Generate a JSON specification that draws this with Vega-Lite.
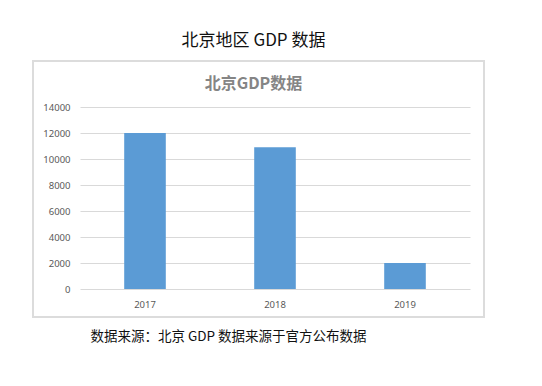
{
  "$schema": "https://vega.github.io/schema/vega-lite/v6.json",
  "autosize": "none",
  "width": 451,
  "height": 256,
  "padding": {"left": 33, "top": 61, "right": 58, "bottom": 69},
  "background": "#ffffff",
  "title": {
    "text": "北京地区 GDP 数据",
    "subtitle": "北京GDP数据",
    "anchor": "middle",
    "dx": -5,
    "offset": -32,
    "font": "Noto Sans CJK SC",
    "fontSize": 17,
    "fontWeight": "normal",
    "color": "#111111",
    "subtitleFont": "Noto Sans CJK SC",
    "subtitleFontSize": 16,
    "subtitleFontWeight": "bold",
    "subtitleColor": "#858585",
    "subtitlePadding": 26
  },
  "data": {
    "values": [
      {"year": "2017", "gdp": 12000},
      {"year": "2018", "gdp": 10900},
      {"year": "2019", "gdp": 2000}
    ]
  },
  "mark": {"type": "bar", "color": "#5b9bd5"},
  "encoding": {
    "x": {
      "field": "year",
      "type": "nominal",
      "sort": null,
      "scale": {"range": [47, 437], "paddingInner": 0.68, "paddingOuter": 0.34},
      "axis": {
        "title": "数据来源：北京 GDP 数据来源于官方公布数据",
        "titleFont": "Noto Sans CJK SC",
        "titleFontSize": 13.5,
        "titleFontWeight": "normal",
        "titleColor": "#111111",
        "titleX": 195,
        "titleY": 37,
        "titleAlign": "center",
        "titleBaseline": "middle",
        "titleAnchor": null,
        "labelAngle": 0,
        "labelFont": "Noto Sans",
        "labelFontSize": 9.5,
        "labelColor": "#595959",
        "labelPadding": 0,
        "ticks": false,
        "tickSize": 0,
        "domain": false,
        "offset": -18,
        "grid": false
      }
    },
    "y": {
      "field": "gdp",
      "type": "quantitative",
      "scale": {"domain": [0, 14000], "range": [228, 46], "nice": false, "zero": true},
      "axis": {
        "title": null,
        "values": [0, 2000, 4000, 6000, 8000, 10000, 12000, 14000],
        "format": "d",
        "labelFont": "Noto Sans",
        "labelFontSize": 9.5,
        "labelColor": "#595959",
        "labelPadding": 0,
        "ticks": false,
        "tickSize": 0,
        "domain": false,
        "offset": -37,
        "grid": true,
        "gridColor": "#d9d9d9",
        "gridWidth": 1
      }
    }
  },
  "config": {
    "view": {"fill": "#ffffff", "stroke": "#dcdcdc", "strokeWidth": 2}
  }
}
